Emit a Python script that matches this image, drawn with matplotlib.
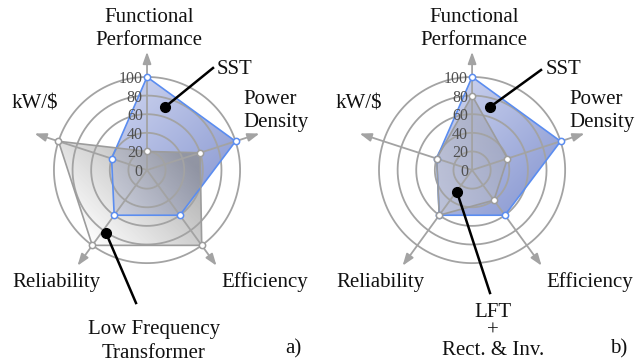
import numpy as np
import matplotlib.pyplot as plt
from matplotlib.colors import LinearSegmentedColormap
from matplotlib.lines import Line2D

plt.rcParams['font.family'] = ['Liberation Serif', 'DejaVu Serif']

# axis order: Functional Performance, Power Density, Efficiency, Reliability, kW/$
categories = ['Functional Performance', 'Power Density', 'Efficiency', 'Reliability', 'kW/$']
rings = [20, 40, 60, 80, 100]
tick_values = [0, 20, 40, 60, 80, 100]

sst_a = [100, 100, 60, 60, 40]
lft_a = [20, 60, 100, 100, 100]
sst_b = [100, 100, 60, 60, 40]
lft_rect_inv_b = [80, 40, 40, 60, 40]

W, H = 636, 362
fig = plt.figure(figsize=(W / 100, H / 100), dpi=100)

GRID = '#a3a3a3'
BLUE = '#5b8df0'
GRAY_EDGE = '#9c9c9c'

theta = np.arange(len(categories)) * 2 * np.pi / len(categories)


def fx(x):
    return x / W


def fy(y):
    return 1 - y / H


def gradient_fill(ax, axg, vals, c0, c1, ang, lims, alpha, z):
    t = np.append(theta, theta[0])
    r = np.append(vals, vals[0])
    patch = ax.fill(t, r, facecolor='none', edgecolor='none')[0]
    xs = np.linspace(-130, 130, 400)
    X, Y = np.meshgrid(xs, xs)
    d = (X * np.cos(ang) + Y * np.sin(ang)) / 100
    cmap = LinearSegmentedColormap.from_list('g', [c0, c1])
    im = axg.imshow(d, extent=(-130, 130, -130, 130), origin='lower', cmap=cmap,
                    vmin=lims[0], vmax=lims[1], alpha=alpha, interpolation='bilinear',
                    zorder=z)
    im.set_clip_path(patch)


def panel(left, sst, other, other_c0, other_c1, other_alpha):
    rect = [left, 0.196, 0.3805, 0.6685]
    axg = fig.add_axes(rect)
    axg.set_xlim(-130, 130)
    axg.set_ylim(-130, 130)
    axg.axis('off')
    axg.set_zorder(0)

    ax = fig.add_axes(rect, projection='polar')
    ax.set_theta_offset(np.pi / 2)
    ax.set_theta_direction(-1)
    ax.set_ylim(0, 130)
    ax.axis('off')
    ax.set_zorder(1)

    gradient_fill(ax, axg, sst, '#d2d8f1', '#8393cf', np.deg2rad(-45), (-1, 1), 1.0, 1)
    gradient_fill(ax, axg, other, other_c0, other_c1, np.deg2rad(45), (-1, 0.4),
                  other_alpha, 2)

    circ = np.linspace(0, 2 * np.pi, 300)
    for v in rings:
        ax.plot(circ, np.full_like(circ, v), color=GRID, lw=1.3, zorder=3)
    for t in theta:
        ax.annotate('', xy=(t, 127), xytext=(t, 0),
                    arrowprops=dict(arrowstyle='-|>,head_length=0.7,head_width=0.25',
                                    color=GRID, lw=1.3, shrinkA=0, shrinkB=0),
                    zorder=3)

    t = np.append(theta, theta[0])
    ax.plot(t, np.append(sst, sst[0]), color=BLUE, lw=1.2, zorder=4)
    ax.plot(t, np.append(other, other[0]), color=GRAY_EDGE, lw=1.2, zorder=4)
    ax.plot(theta, sst, 'o', ms=4.5, mfc='white', mec=BLUE, mew=1.1, zorder=5)
    ax.plot(theta, other, 'o', ms=4.5, mfc='white', mec=GRAY_EDGE, mew=1.1, zorder=5)

    for v in tick_values:
        ax.annotate(str(v), xy=(0, v), xytext=(-3, 0), textcoords='offset points',
                    ha='right', va='center_baseline', fontsize=11.5, color='#505050',
                    zorder=6)
    return ax


def label(x, y, s, ha='left', ls=1.32):
    # y is the baseline of the last line
    fig.text(fx(x), fy(y), s, ha=ha, va='baseline', fontsize=15, color='#111111',
             multialignment=ha, linespacing=ls)


def leader(x1, y1, x2, y2):
    fig.add_artist(Line2D([fx(x1), fx(x2)], [fy(y1), fy(y2)], transform=fig.transFigure,
                          color='black', lw=1.8))
    fig.add_artist(Line2D([fx(x2)], [fy(y2)], transform=fig.transFigure, marker='o',
                          ms=7, color='black'))


panel(0.0409, sst_a, lft_a, '#ffffff', '#8c8c8c', 0.7)
panel(0.552, sst_b, lft_rect_inv_b, '#e2e2e6', '#a3a6b4', 0.55)

# panel a text
label(149, 45, 'Functional\nPerformance', 'center')
label(217, 74, 'SST')
label(243, 127, 'Power\nDensity')
label(12, 108, 'kW/$')
label(12, 287, 'Reliability')
label(308, 287, 'Efficiency', 'right')
label(154, 358, 'Low Frequency\nTransformer', 'center', 1.38)
label(285, 353, 'a)')
leader(213, 68, 165, 107)
leader(136, 303, 106, 233)

# panel b text
label(474, 45, 'Functional\nPerformance', 'center')
label(546, 74, 'SST')
label(569, 127, 'Power\nDensity')
label(336, 108, 'kW/$')
label(336, 287, 'Reliability')
label(633, 287, 'Efficiency', 'right')
label(493, 355, 'LFT\n+\nRect. & Inv.', 'center', 1.0)
label(610, 353, 'b)')
leader(541, 70, 490, 107)
leader(490, 293, 457, 192)

fig.savefig('out.png', dpi=100)
